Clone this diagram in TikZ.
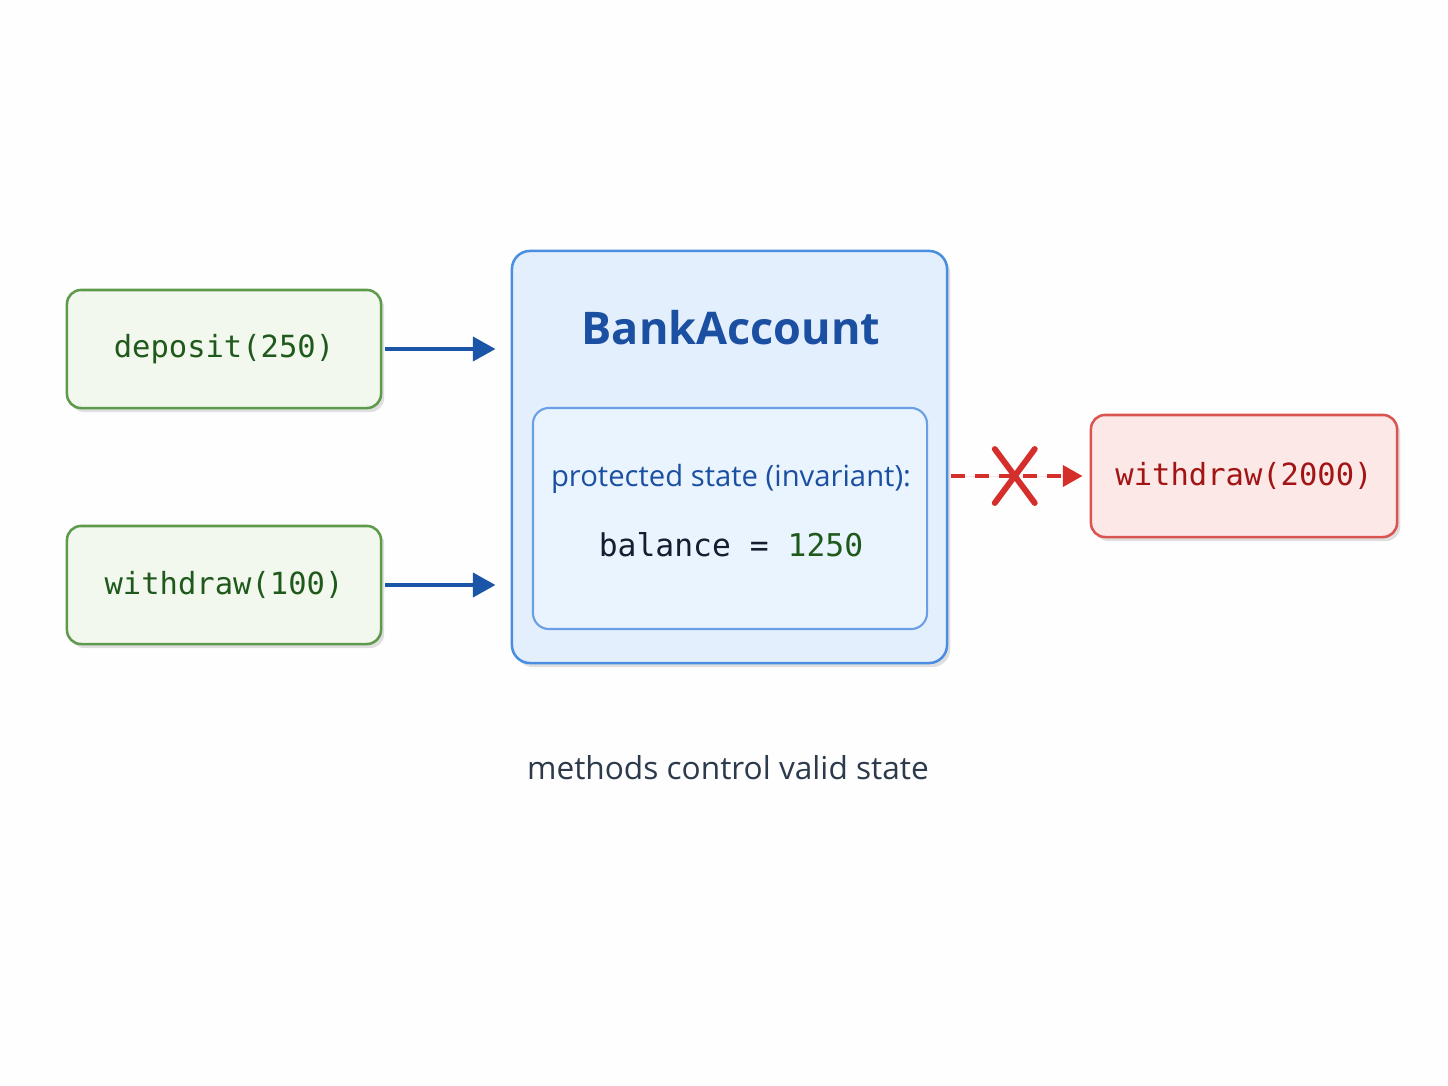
\documentclass[tikz,border=0pt]{standalone}
\usepackage{fontspec}
\setmainfont{Open Sans}
\setmonofont{DejaVu Sans Mono}
\usepackage{xcolor}
\usepackage{tikz}
\usetikzlibrary{positioning,arrows.meta,shadows,calc}
\definecolor{callline}{HTML}{5E9A4C}
\definecolor{callfill}{HTML}{F2F8EE}
\definecolor{calltext}{HTML}{1F5A1C}
\definecolor{acctline}{HTML}{4A8EE2}
\definecolor{acctfill}{HTML}{E3EFFC}
\definecolor{stateline}{HTML}{6A9FE6}
\definecolor{statefill}{HTML}{EAF4FE}
\definecolor{titleblue}{HTML}{1B4FA2}
\definecolor{arrowblue}{HTML}{1A55A8}
\definecolor{failline}{HTML}{DA5550}
\definecolor{failfill}{HTML}{FDE8E8}
\definecolor{failtext}{HTML}{A31414}
\definecolor{failred}{HTML}{D52F2C}
\definecolor{captext}{HTML}{2C3A4C}
\definecolor{baltext}{HTML}{141E30}
\tikzstyle{shade} = [drop shadow={shadow xshift=0.08cm, shadow yshift=-0.1cm, opacity=0.12, fill=black}]
\tikzstyle{call} = [draw=callline, fill=callfill, line width=1.8pt, rounded corners=0.35cm, minimum width=7.85cm, minimum height=2.95cm, text=calltext, font=\ttfamily\fontsize{21.7}{26}\selectfont, shade]
\tikzstyle{fail} = [call, draw=failline, fill=failfill, text=failtext, minimum width=7.65cm, minimum height=3.05cm]
\tikzstyle{arrow} = [-{Triangle[length=16pt, width=17pt]}, line width=2.8pt, draw=arrowblue]
\tikzstyle{blocked} = [-{Triangle[length=14pt, width=15pt]}, line width=2.6pt, draw=failred, fill=failred, dash pattern=on 10pt off 7pt]

\begin{document}
\begin{tikzpicture}[x=0.025cm, y=-0.025cm]
		\fill[white!99!gray] (0,0) rectangle (1448,1086);

		\node (dep) [call] at (224,349) {deposit(250)};
		\node (wd100) [call] at (224,585) {withdraw(100)};

		\node (acct) [draw=acctline, fill=acctfill, line width=1.8pt, rounded corners=0.45cm, minimum width=10.875cm, minimum height=10.3cm, shade] at (729.5,457) {};
		\node (name) [text=titleblue, font=\bfseries\fontsize{32}{37}\selectfont] at (731,328) {BankAccount};
		\node (state) [draw=stateline, fill=statefill, line width=1.5pt, rounded corners=0.4cm, minimum width=9.85cm, minimum height=5.525cm] at (730,518.5) {};
		\node (prot) [text=titleblue, font=\fontsize{20.8}{25}\selectfont] at (731,479) {protected state (invariant):};
		\node (bal) [text=baltext, font=\ttfamily\fontsize{22.3}{26}\selectfont, below=0.72cm of prot] {balance = \textcolor{calltext}{1250}};

		\node (wd2k) [fail] at (1244,476) {withdraw(2000)};

		\node (note) [text=captext, font=\fontsize{22.5}{27}\selectfont] at (728,768) {methods control valid state};

		\draw [arrow, shorten <=2pt, shorten >=0.38cm] (dep.east) -- (dep.east -| acct.west);
		\draw [arrow, shorten <=2pt, shorten >=0.38cm] (wd100.east) -- (wd100.east -| acct.west);
		\draw [blocked, shorten <=2pt, shorten >=0.18cm] (acct.east |- wd2k.west) -- (wd2k.west);

		% rejected call
		\coordinate (cross) at ($(acct.east |- wd2k.west)!0.47!(wd2k.west)$);
		\draw [failred, line width=4.2pt, line cap=round] ($(cross)+(-20,-27)$) -- ($(cross)+(20,27)$);
		\draw [failred, line width=4.2pt, line cap=round] ($(cross)+(20,-27)$) -- ($(cross)+(-20,27)$);
	\end{tikzpicture}
\end{document}
